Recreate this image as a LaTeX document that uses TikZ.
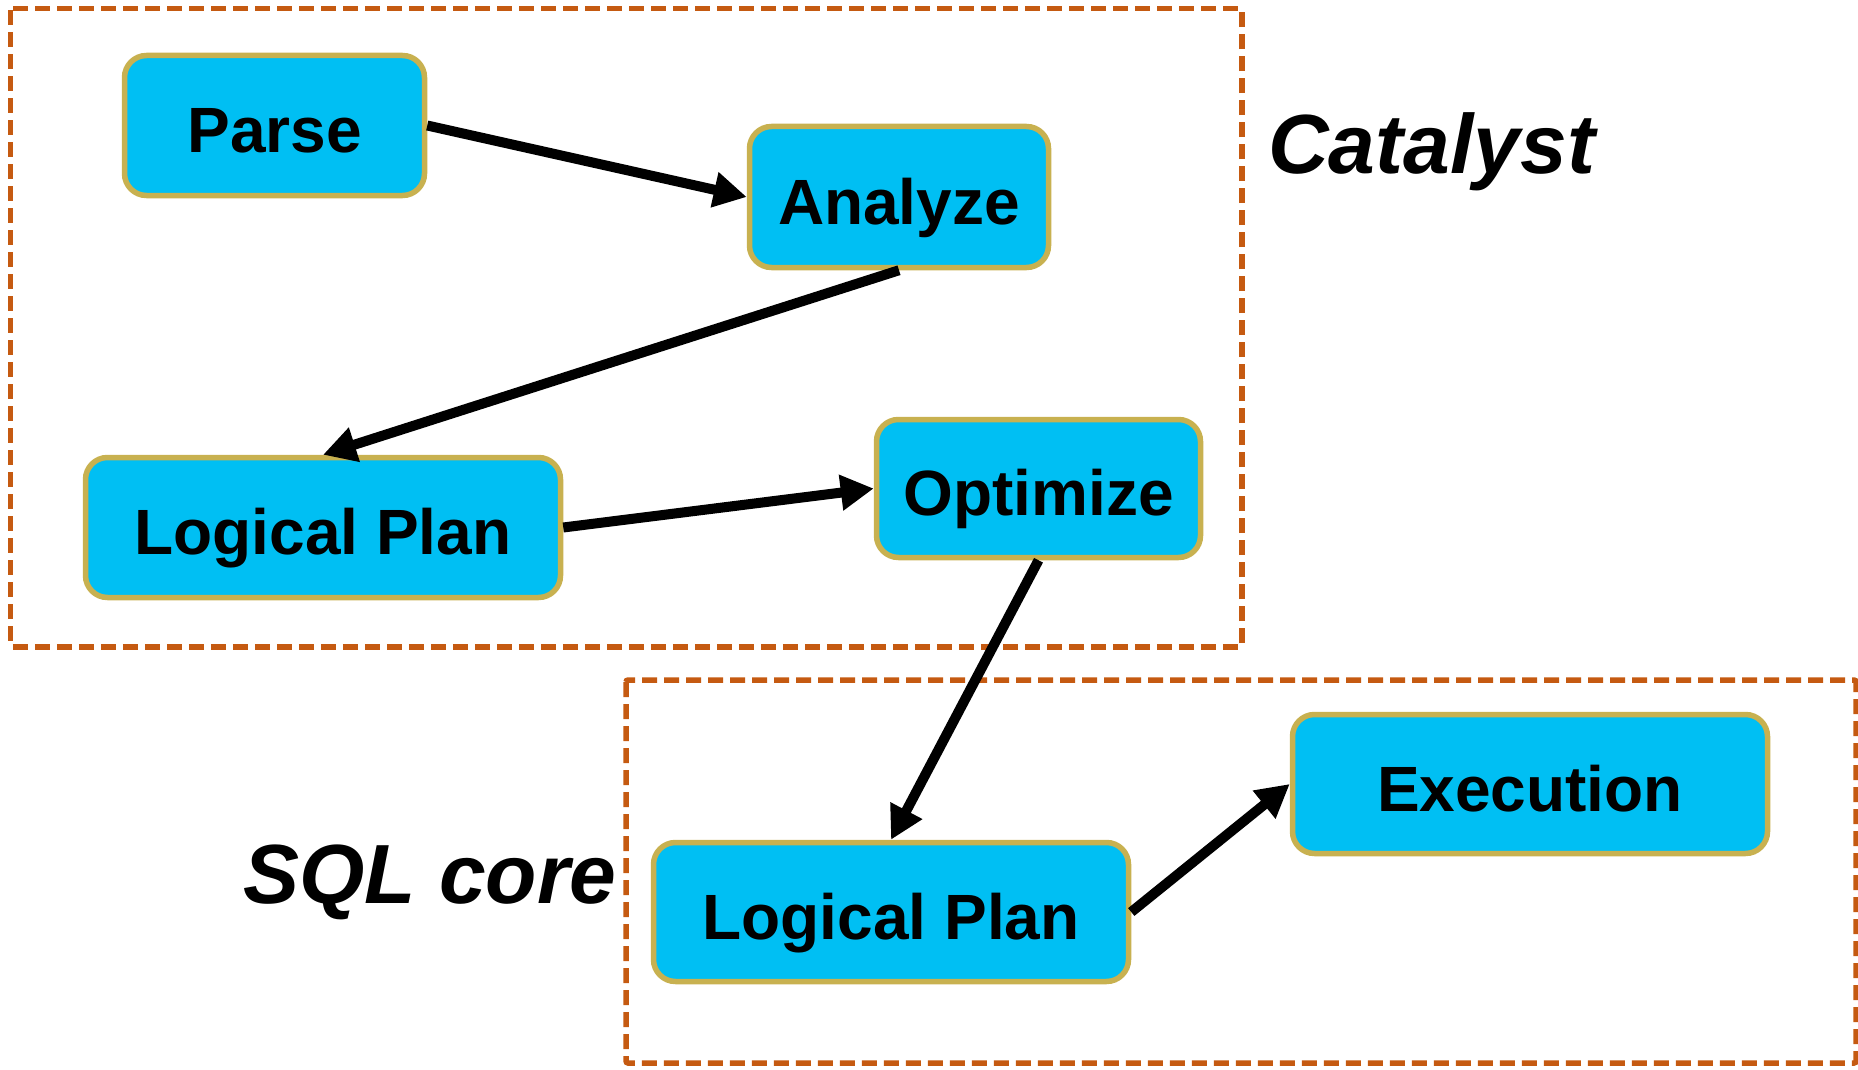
\documentclass[tikz,border=0pt]{standalone}
\usepackage{fontspec}
\setmainfont{Liberation Sans}
\usetikzlibrary{arrows.meta}
\definecolor{boxfill}{RGB}{0,191,243}
\definecolor{boxline}{RGB}{200,177,80}
\definecolor{dashcol}{RGB}{197,90,17}
\begin{document}
\begin{tikzpicture}[x=1pt,y=-1pt,
  stage/.style={draw=boxline, line width=5.5pt, fill=boxfill, rounded corners=22pt,
    inner sep=0pt, text height=54pt, text depth=0pt,
    font=\fontsize{64}{77}\selectfont\bfseries},
  group/.style={draw=dashcol, line width=5.5pt, dash pattern=on 15pt off 7pt, rounded corners=2pt},
  flow/.style={line width=10pt, -{Triangle[length=33pt,width=34pt]}},
  title/.style={font=\fontsize{84}{100}\selectfont\bfseries\itshape, inner sep=0pt, anchor=base west}]
\useasboundingbox (0,0) rectangle (1858,1070);
\draw[group] (10.7,8.3) rectangle (1242,647);
\draw[group] (626,680) rectangle (1856,1063);
\node[stage, minimum width=300pt, minimum height=140pt] (parse) at (274.5,125.5) {Parse};
\node[stage, minimum width=299pt, minimum height=141pt] (analyze) at (899,197) {Analyze};
\node[stage, minimum width=475pt, minimum height=140pt] (lp1) at (323,527.5) {Logical Plan};
\node[stage, minimum width=324pt, minimum height=138pt] (opt) at (1038.5,488.5) {Optimize};
\node[stage, minimum width=475pt, minimum height=139pt] (lp2) at (891,912) {Logical Plan};
\node[stage, minimum width=475pt, minimum height=139pt] (exec) at (1530,784) {Execution};
\node[title] (catalyst) at (1268,174) {Catalyst};
\node[title] (sqlcore) at (243,903) {SQL core};
\draw[flow] (parse.east) -- (analyze.west);
\draw[flow] (analyze.south) -- (lp1.north);
\draw[flow] (lp1.east) -- (opt.west);
\draw[flow] (opt.south) -- (lp2.north);
\draw[flow] (lp2.east) -- (exec.west);
\end{tikzpicture}
\end{document}
